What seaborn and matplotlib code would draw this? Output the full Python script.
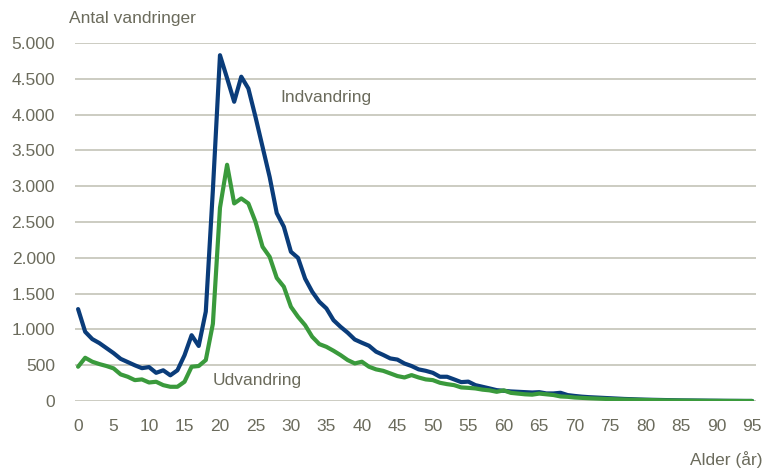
import pandas as pd
import matplotlib.pyplot as plt
import seaborn as sns

# Alder 0-95
alder = list(range(96))

indvandring = [1285, 968, 866, 810, 740, 670, 590, 545, 500, 460,
               475, 395, 430, 360, 430, 640, 920, 770, 1250, 2950,
               4830, 4510, 4180, 4530, 4365, 3970, 3550, 3130, 2625, 2435,
               2085, 2000, 1710, 1527, 1387, 1294, 1130, 1037, 955, 860,
               815, 773, 690, 645, 596, 580, 525, 490, 443, 423,
               395, 340, 340, 303, 265, 272, 223, 200, 177, 153,
               144, 135, 130, 125, 120, 125, 107, 107, 116, 84,
               72, 62, 55, 50, 45, 40, 35, 30, 27, 23,
               20, 18, 16, 14, 12, 10, 9, 8, 7, 6,
               5, 4, 3, 3, 2, 2]

udvandring = [480, 605, 550, 517, 490, 457, 373, 340, 293, 303,
              260, 270, 223, 200, 200, 270, 480, 490, 573, 1080,
              2700, 3300, 2760, 2830, 2760, 2505, 2155, 2015, 1720, 1597,
              1317, 1177, 1060, 898, 796, 758, 703, 642, 573, 526,
              550, 480, 443, 423, 387, 350, 330, 363, 330, 303,
              293, 256, 237, 223, 191, 185, 177, 160, 150, 130,
              150, 115, 105, 95, 90, 105, 95, 85, 65, 60,
              50, 45, 40, 36, 32, 28, 25, 22, 20, 18,
              16, 14, 12, 10, 9, 8, 7, 6, 5, 4,
              4, 3, 3, 2, 2, 2]

df = pd.DataFrame({
    "Alder": alder * 2,
    "Antal": indvandring + udvandring,
    "Type": ["Indvandring"] * 96 + ["Udvandring"] * 96,
})

sns.set_style("white")
plt.rcParams["font.family"] = ["Liberation Sans", "DejaVu Sans"]

text_col = "#6b6b5c"
fig = plt.figure(figsize=(7.74, 4.73), dpi=100)
ax = fig.add_axes([0.0963, 0.152, 0.88, 0.757])

sns.lineplot(data=df, x="Alder", y="Antal", hue="Type",
             palette={"Indvandring": "#0a3c7a", "Udvandring": "#3a9a3c"},
             linewidth=3, legend=False, ax=ax, zorder=3)

ax.set_xlim(-0.5, 95.5)
ax.set_ylim(0, 5000)
ax.set_xticks(range(0, 96, 5))
ax.set_yticks(range(0, 5001, 500))
ax.set_yticklabels([f"{v:,}".replace(",", ".") for v in range(0, 5001, 500)])
ax.grid(axis="y", color="#c4c3b8", linewidth=1.2)
ax.grid(axis="x", visible=False)
for s in ax.spines.values():
    s.set_visible(False)
ax.tick_params(length=0, labelsize=12.5, colors=text_col)
ax.tick_params(axis="y", pad=14)
ax.tick_params(axis="x", pad=13)
ax.set_xlabel("")
ax.set_ylabel("")

fig.text(69 / 774, 1 - 18 / 473, "Antal vandringer", fontsize=12.5,
         color=text_col, ha="left", va="center")
fig.text(763 / 774, 1 - 460 / 473, "Alder (år)", fontsize=12.5,
         color=text_col, ha="right", va="center")

ax.text(28.5, 4246, "Indvandring", fontsize=12.5, color=text_col,
        ha="left", va="center")
ax.text(18.9, 293, "Udvandring", fontsize=12.5, color=text_col,
        ha="left", va="center")

fig.savefig("out.png", dpi=100)
